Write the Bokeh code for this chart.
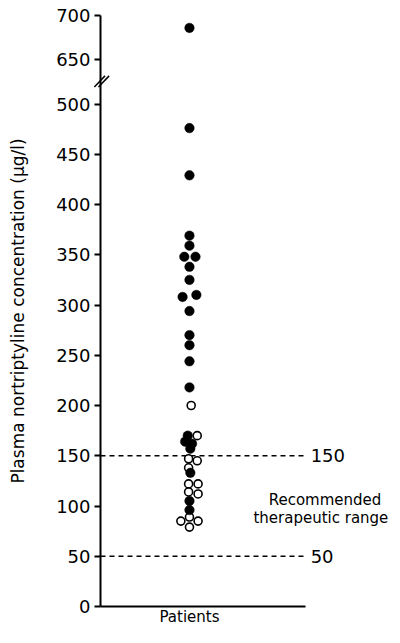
from bokeh.plotting import figure
from bokeh.models import Range1d, Label, Arrow, FixedTicker, ColumnDataSource
from bokeh.embed import file_html
from bokeh.resources import INLINE

# ---- data (plasma nortriptyline, ug/l) ----
filled_values = [686, 476, 429, 369, 359, 348, 348, 338, 325, 308, 310, 294, 270,
                 260, 244, 218, 170, 164, 162, 157, 133, 105, 96]
filled_cols = [0, 0, 0, 0, 0, -0.6, 0.7, 0, 0, -0.8, 0.8, 0, 0,
               0, 0, 0, -0.2, -0.5, 0.3, 0.1, 0.1, 0, 0]
open_values = [200, 170, 147, 145, 138, 122, 122, 114, 112, 89, 85, 85, 79]
open_cols = [0.2, 0.9, -0.1, 0.9, -0.1, -0.1, 1.0, -0.1, 1.0, 0, -1.0, 1.0, 0]
tick_values = [0, 50, 100, 150, 200, 250, 300, 350, 400, 450, 500, 650, 700]
range_limits = [50, 150]
x_label = "Patients"
y_label = "Plasma nortriptyline concentration (\u03bcg/l)"
range_text = ["Recommended", "therapeutic range"]

# ---- broken-axis mapping ----
LOWER_MAX, UPPER_MIN, UPPER_BASE, UPPER_SCALE = 500, 650, 544, 0.88
BREAK_AT = 523


def to_display(v):
    if v <= LOWER_MAX:
        return v
    return UPPER_BASE + (v - UPPER_MIN) * UPPER_SCALE


PATIENT_X = 4.34
COL_STEP = 0.42
X_END = 10
FONT = "DejaVu Sans"
W, H = 392, 627
PX_X, PX_Y = 20.5, 1.005     # pixels per data unit
AXIS_X, AXIS_Y = 100, 606     # pixel position of the axes corner

p = figure(width=W, height=H,
           x_range=Range1d(-AXIS_X / PX_X, (W - AXIS_X) / PX_X),
           y_range=Range1d(-(H - AXIS_Y) / PX_Y, AXIS_Y / PX_Y),
           output_backend="svg", toolbar_location=None, min_border=0)
p.background_fill_color = "white"
p.border_fill_color = "white"
p.outline_line_color = None
p.xgrid.visible = False
p.ygrid.visible = False

# y axis
tick_pos = [int(round(to_display(v))) for v in tick_values]
yax = p.yaxis[0]
yax.fixed_location = 0
yax.bounds = (0, to_display(700))
yax.ticker = FixedTicker(ticks=tick_pos, minor_ticks=[])
yax.major_label_overrides = {tp: str(v) for tp, v in zip(tick_pos, tick_values)}
yax.major_label_text_font = FONT
yax.major_label_text_font_size = "18px"
yax.major_label_text_color = "black"
yax.major_tick_out = 6
yax.major_tick_in = 0
yax.major_tick_line_width = 2
yax.major_tick_line_color = "black"
yax.minor_tick_line_color = None
yax.axis_line_width = 2
yax.axis_line_color = "black"
yax.major_label_standoff = 4
yax.axis_label = y_label
yax.axis_label_text_font = FONT
yax.axis_label_text_font_style = "normal"
yax.axis_label_text_font_size = "17px"
yax.axis_label_text_color = "black"
yax.axis_label_standoff = 25

# x axis
xax = p.xaxis[0]
xax.fixed_location = 0
xax.bounds = (0, X_END)
xax.ticker = FixedTicker(ticks=[])
xax.major_label_text_font_size = "0px"
xax.major_tick_line_color = None
xax.minor_tick_line_color = None
xax.axis_line_width = 2
xax.axis_line_color = "black"

# therapeutic range lines
p.segment(x0=[0] * len(range_limits), y0=range_limits,
          x1=[X_END] * len(range_limits), y1=range_limits,
          line_color="black", line_width=1.5, line_dash="5 4")
for lim in range_limits:
    p.add_layout(Label(x=X_END + 0.25, y=lim, text=str(lim), text_align="left",
                       text_baseline="middle", text_font=FONT,
                       text_font_size="18px", text_color="black"))

p.add_layout(Label(x=10.95, y=105.5, text=range_text[0], text_align="center",
                   text_baseline="middle", text_font=FONT,
                   text_font_size="15px", text_color="black"))
p.add_layout(Label(x=10.75, y=87.6, text=range_text[1], text_align="center",
                   text_baseline="middle", text_font=FONT,
                   text_font_size="15px", text_color="black"))

# axis break marks
for k in (0, 1):
    p.add_layout(Arrow(start=None, end=None,
                       x_start=-0.3 + 0.2 * k, y_start=BREAK_AT - 6,
                       x_end=0.22 + 0.2 * k, y_end=BREAK_AT + 5,
                       line_color="black", line_width=1.5))

# data points
src_open = ColumnDataSource(dict(
    x=[PATIENT_X + c * COL_STEP for c in open_cols],
    y=[to_display(v) for v in open_values]))
src_filled = ColumnDataSource(dict(
    x=[PATIENT_X + c * COL_STEP for c in filled_cols],
    y=[to_display(v) for v in filled_values]))

p.scatter("x", "y", source=src_open, size=8, marker="circle",
          fill_color="white", line_color="black", line_width=1.6)
p.scatter("x", "y", source=src_filled, size=9.5, marker="circle",
          fill_color="black", line_color="black", line_width=0.5)

# x label under the patient column
p.add_layout(Label(x=PATIENT_X, y=-10.9, text=x_label, text_align="center",
                   text_baseline="middle", text_font=FONT,
                   text_font_size="15px", text_color="black"))

open("out.html", "w").write(file_html(p, INLINE))
